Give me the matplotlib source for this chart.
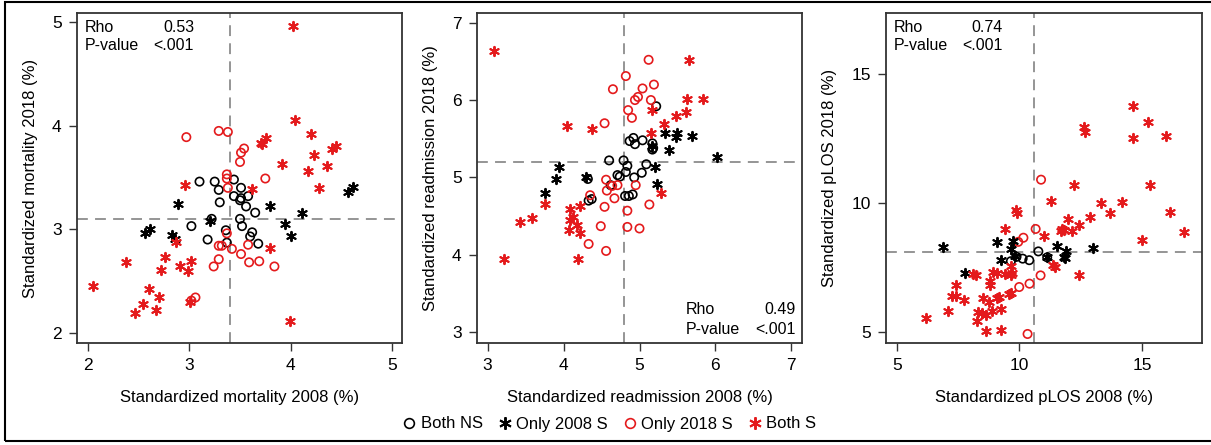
import matplotlib
matplotlib.use('Agg')
import matplotlib.pyplot as plt
from matplotlib.lines import Line2D
from matplotlib.patches import Rectangle

plt.rcParams['font.family'] = ['Liberation Sans', 'DejaVu Sans']

# --- Panel 1 : mortality ---
mort_both_ns_x = [3.10, 3.25, 3.29, 3.44, 3.51, 3.30, 3.44, 3.50, 3.58, 3.51, 3.56, 3.65,
                  3.22, 3.50, 3.02, 3.52, 3.62, 3.60, 3.18, 3.36, 3.37, 3.68]
mort_both_ns_y = [3.46, 3.46, 3.38, 3.48, 3.40, 3.26, 3.32, 3.28, 3.32, 3.30, 3.22, 3.16,
                  3.10, 3.10, 3.03, 3.03, 2.97, 2.93, 2.90, 2.99, 2.87, 2.86]
mort_only08_x = [2.89, 2.56, 2.61, 2.83, 2.86, 3.20, 3.80, 3.94, 4.00, 4.11, 4.57, 4.62]
mort_only08_y = [3.24, 2.96, 3.00, 2.94, 2.91, 3.08, 3.22, 3.05, 2.93, 3.16, 3.36, 3.41]
mort_only18_x = [2.97, 3.29, 3.38, 3.54, 3.51, 3.50, 3.75, 3.37, 3.37, 3.38, 3.37, 3.29,
                 3.32, 3.42, 3.51, 3.58, 3.29, 3.24, 3.59, 3.69, 3.84, 3.06, 3.02]
mort_only18_y = [3.89, 3.95, 3.94, 3.78, 3.74, 3.65, 3.49, 3.53, 3.49, 3.40, 2.96, 2.84,
                 2.84, 2.81, 2.76, 2.85, 2.71, 2.64, 2.68, 2.69, 2.64, 2.34, 2.31]
mort_both_s_x = [4.02, 4.04, 4.20, 4.23, 4.45, 4.41, 4.17, 4.36, 3.91, 4.28, 3.76, 3.71,
                 3.72, 3.62, 3.80, 3.99, 2.96, 2.87, 2.76, 2.37, 2.05, 2.60, 2.54, 2.46,
                 2.70, 2.67, 2.72, 2.91, 2.99, 3.02, 3.01]
mort_both_s_y = [4.96, 4.06, 3.92, 3.72, 3.80, 3.78, 3.56, 3.61, 3.63, 3.40, 3.88, 3.83,
                 3.82, 3.39, 2.82, 2.11, 3.43, 2.88, 2.73, 2.68, 2.45, 2.42, 2.28, 2.19,
                 2.34, 2.22, 2.61, 2.64, 2.60, 2.69, 2.30]

# --- Panel 2 : readmission ---
read_both_ns_x = [5.22, 4.87, 4.92, 4.94, 5.04, 5.17, 5.18, 5.17, 4.60, 4.79, 4.84, 4.82,
                  5.09, 5.03, 4.93, 4.71, 4.74, 4.32, 4.37, 4.33, 4.81, 4.86, 4.91, 4.62]
read_both_ns_y = [5.92, 5.47, 5.51, 5.43, 5.48, 5.44, 5.38, 5.36, 5.22, 5.22, 5.15, 5.07,
                  5.17, 5.06, 5.00, 5.03, 5.01, 4.98, 4.72, 4.70, 4.76, 4.76, 4.78, 4.90]
read_only08_x = [3.94, 3.90, 3.76, 4.29, 5.21, 5.23, 5.39, 5.34, 5.49, 5.48, 5.69, 6.02, 5.17]
read_only08_y = [5.14, 4.98, 4.80, 5.01, 5.13, 4.92, 5.36, 5.58, 5.58, 5.52, 5.54, 5.26, 5.40]
read_only18_x = [5.12, 4.82, 4.65, 5.04, 5.19, 4.98, 4.94, 5.15, 4.85, 4.90, 4.54, 4.56,
                 4.57, 4.64, 4.71, 4.67, 4.95, 4.35, 4.54, 4.84, 4.49, 4.84, 5.00, 5.13,
                 4.33, 4.56]
read_only18_y = [6.52, 6.31, 6.14, 6.15, 6.20, 6.04, 6.00, 6.00, 5.87, 5.77, 5.70, 4.97,
                 4.83, 4.89, 4.90, 4.73, 4.90, 4.77, 4.62, 4.57, 4.37, 4.36, 4.34, 4.65,
                 4.14, 4.05]
read_both_s_x = [3.09, 5.65, 5.62, 5.84, 5.61, 5.48, 5.32, 5.17, 5.15, 4.04, 4.37, 3.76,
                 3.58, 3.43, 3.22, 4.19, 4.09, 4.13, 4.09, 4.18, 4.07, 4.22, 4.21, 5.28]
read_both_s_y = [6.64, 6.52, 6.01, 6.01, 5.84, 5.79, 5.69, 5.87, 5.58, 5.67, 5.63, 4.66,
                 4.48, 4.42, 3.95, 3.95, 4.59, 4.49, 4.45, 4.39, 4.32, 4.28, 4.63, 4.80]

# --- Panel 3 : pLOS ---
plos_both_ns_x = [10.77, 9.88, 10.13, 10.40, 9.65, 11.13]
plos_both_ns_y = [8.14, 7.93, 7.86, 7.80, 7.76, 7.91]
plos_only08_x = [6.87, 9.07, 9.75, 9.65, 9.25, 7.77, 11.51, 11.88, 11.82, 11.85, 11.11, 12.98, 9.82]
plos_only08_y = [8.31, 8.50, 8.54, 8.22, 7.80, 7.31, 8.36, 8.14, 7.93, 7.89, 7.91, 8.29, 7.96]
plos_only18_x = [10.88, 10.66, 10.16, 9.95, 10.86, 10.41, 9.99, 10.33]
plos_only18_y = [10.92, 9.01, 8.67, 8.51, 7.21, 6.89, 6.76, 4.94]
plos_both_s_x = [14.61, 15.23, 12.65, 12.69, 14.61, 15.99, 15.31, 12.23, 11.27, 13.32,
                 14.19, 9.86, 9.89, 13.67, 16.13, 11.96, 12.87, 12.41, 11.73, 11.80,
                 11.68, 12.16, 16.71, 11.01, 9.40, 14.99, 12.41, 11.38, 11.43, 8.12,
                 8.23, 8.91, 9.07, 9.42, 9.64, 9.69, 9.64, 7.43, 7.27, 7.43, 7.74,
                 7.08, 6.18, 8.79, 8.80, 8.50, 9.10, 9.18, 9.59, 9.64, 8.77, 8.31,
                 8.47, 8.62, 8.87, 9.23, 8.28, 8.65, 9.26]
plos_both_s_y = [13.79, 13.15, 12.96, 12.78, 12.52, 12.62, 10.70, 10.70, 10.10, 10.00,
                 10.07, 9.74, 9.64, 9.61, 9.66, 9.41, 9.48, 9.17, 8.99, 8.97,
                 8.94, 8.92, 8.88, 8.72, 9.02, 8.58, 7.21, 7.60, 7.55, 7.26,
                 7.21, 7.35, 7.31, 7.26, 7.22, 7.29, 7.58, 6.82, 6.41, 6.43, 6.24,
                 5.84, 5.54, 6.98, 6.82, 6.34, 6.33, 6.37, 6.49, 6.51, 6.16, 5.80,
                 5.74, 5.67, 5.83, 5.89, 5.45, 5.04, 5.08]

legend_labels = ['Both NS', 'Only 2008 S', 'Only 2018 S', 'Both S']

RED = '#e41a1c'
STAR = (6, 2, 0)

fig = plt.figure(figsize=(12.11, 4.45), dpi=100)
W, H = 1211, 445


def make_ax(left, right, top=13, bottom=343):
    return fig.add_axes([left / W, 1 - bottom / H, (right - left) / W, (bottom - top) / H])


def ax_w_px(ax):
    return ax.get_position().width * W


def draw(ax, groups, xlim, ylim, ticks_x, ticks_y, vline, hline, xlabel, ylabel,
         rho, stats_corner):
    (nsx, nsy), (o8x, o8y), (o18x, o18y), (bsx, bsy) = groups
    ax.axvline(vline, color='#8c8c8c', lw=1.3, ls=(0, (6, 4)), zorder=1)
    ax.axhline(hline, color='#8c8c8c', lw=1.3, ls=(0, (6, 4)), zorder=1)
    ax.scatter(nsx, nsy, s=36, facecolors='none', edgecolors='black', linewidths=1.2, zorder=3)
    ax.scatter(o18x, o18y, s=36, facecolors='none', edgecolors=RED, linewidths=1.2, zorder=3)
    ax.scatter(o8x, o8y, s=45, marker=STAR, color='black', linewidths=1.4, zorder=3)
    ax.scatter(bsx, bsy, s=45, marker=STAR, color=RED, linewidths=1.4, zorder=3)
    ax.set_xlim(*xlim)
    ax.set_ylim(*ylim)
    ax.set_xticks(ticks_x)
    ax.set_yticks(ticks_y)
    ax.tick_params(direction='out', length=6, width=1, labelsize=12.5, pad=5, color='#333333')
    for sp in ax.spines.values():
        sp.set_linewidth(1.3)
        sp.set_color('#333333')
    ax.set_xlabel(xlabel, fontsize=12, labelpad=12)
    ax.set_ylabel(ylabel, fontsize=12, labelpad=10)
    tr = ax.transAxes
    w = ax_w_px(ax)
    if stats_corner == 'tl':
        fx = lambda p: p / w
        fy = lambda p: 1 - p / 330
        rows = [(14, 'Rho', rho), (33, 'P-value', '<.001')]
        lx, rx = fx(8), fx(117)
    else:
        fx = lambda p: 1 - p / w
        fy = lambda p: p / 330
        rows = [(34, 'Rho', rho), (14, 'P-value', '<.001')]
        lx, rx = fx(116), fx(6)
    for yp, label, val in rows:
        ax.text(lx, fy(yp), label, transform=tr, fontsize=11.5, va='center', ha='left')
        ax.text(rx, fy(yp), val, transform=tr, fontsize=11.5, va='center', ha='right')


ax1 = make_ax(77, 402)
draw(ax1, [(mort_both_ns_x, mort_both_ns_y), (mort_only08_x, mort_only08_y),
           (mort_only18_x, mort_only18_y), (mort_both_s_x, mort_both_s_y)],
     (1.89, 5.1), (1.9, 5.09), [2, 3, 4, 5], [2, 3, 4, 5], 3.4, 3.1,
     'Standardized mortality 2008 (%)', 'Standardized mortality 2018 (%)', '0.53', 'tl')

ax2 = make_ax(477, 802)
draw(ax2, [(read_both_ns_x, read_both_ns_y), (read_only08_x, read_only08_y),
           (read_only18_x, read_only18_y), (read_both_s_x, read_both_s_y)],
     (2.86, 7.14), (2.86, 7.125), [3, 4, 5, 6, 7], [3, 4, 5, 6, 7], 4.8, 5.2,
     'Standardized readmission 2008 (%)', 'Standardized readmission 2018 (%)', '0.49', 'br')

ax3 = make_ax(886, 1202)
draw(ax3, [(plos_both_ns_x, plos_both_ns_y), (plos_only08_x, plos_only08_y),
           (plos_only18_x, plos_only18_y), (plos_both_s_x, plos_both_s_y)],
     (4.56, 17.44), (4.59, 17.38), [5, 10, 15], [5, 10, 15], 10.6, 8.1,
     'Standardized pLOS 2008 (%)', 'Standardized pLOS 2018 (%)', '0.74', 'tl')

handles = [
    Line2D([], [], ls='none', marker='o', mfc='none', mec='black', ms=7, mew=1.2),
    Line2D([], [], ls='none', marker=STAR, color='black', ms=9, mew=1.4),
    Line2D([], [], ls='none', marker='o', mfc='none', mec=RED, ms=7, mew=1.2),
    Line2D([], [], ls='none', marker=STAR, color=RED, ms=9, mew=1.4),
]
fig.legend(handles, legend_labels, loc='center', bbox_to_anchor=(0.502, 1 - 424 / H),
           ncol=4, frameon=False, fontsize=12, handletextpad=0.1, columnspacing=0.7,
           handlelength=1.2)

# cadre extérieur
fig.add_artist(Rectangle((5 / W, 1 - 441 / H), 1.0, (441 - 2) / H, transform=fig.transFigure,
                         fill=False, lw=1.5, ec='black', clip_on=False))

fig.savefig('out.png', dpi=100)
